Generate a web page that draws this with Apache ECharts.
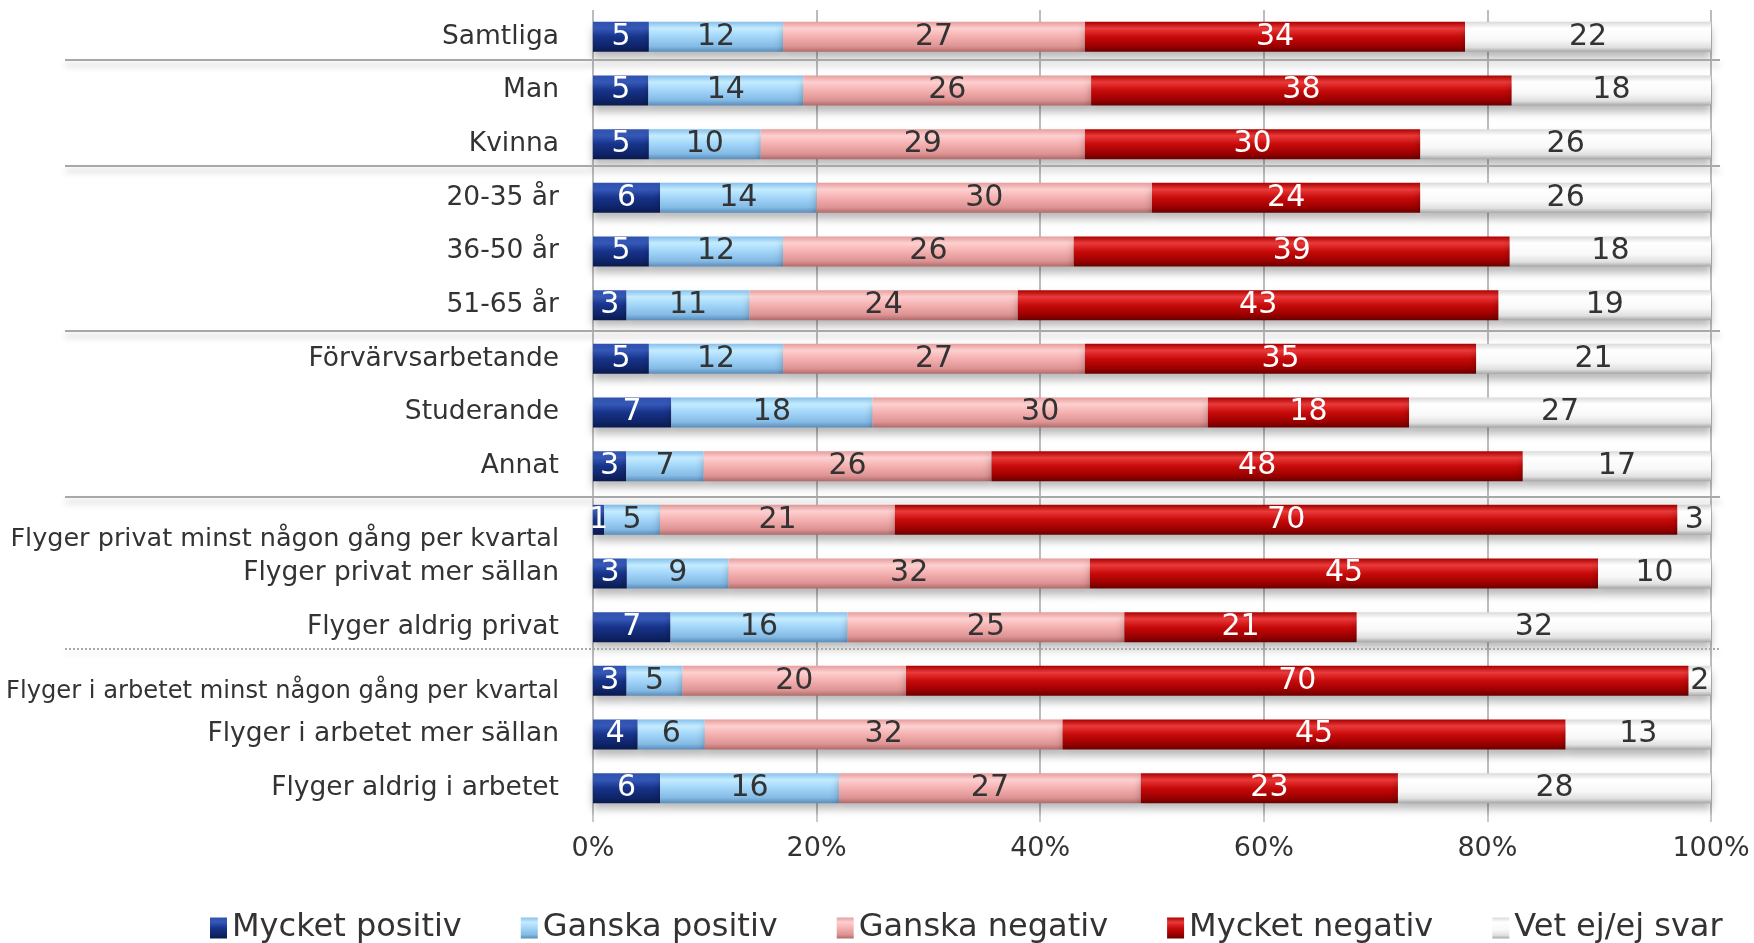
<!DOCTYPE html>
<html>
<head>
<meta charset="utf-8">
<script src="https://cdn.jsdelivr.net/npm/echarts@6/dist/echarts.min.js"></script>
<style>
  html, body { margin: 0; padding: 0; background: #fff; }
  #chart { width: 1754px; height: 943px; }
</style>
</head>
<body>
<div id="chart"></div>
<script>
// categories, top to bottom
const categories = [
    'Samtliga', 'Man', 'Kvinna',
    '20-35 år', '36-50 år', '51-65 år',
    'Förvärvsarbetande', 'Studerande', 'Annat',
    'Flyger privat minst någon gång per kvartal', 'Flyger privat mer sällan', 'Flyger aldrig privat',
    'Flyger i arbetet minst någon gång per kvartal', 'Flyger i arbetet mer sällan', 'Flyger aldrig i arbetet'
];

const seriesNames = ['Mycket positiv', 'Ganska positiv', 'Ganska negativ', 'Mycket negativ', 'Vet ej/ej svar'];

const mycketPositiv = [5, 5, 5, 6, 5, 3, 5, 7, 3, 1, 3, 7, 3, 4, 6];
const ganskaPositiv = [12, 14, 10, 14, 12, 11, 12, 18, 7, 5, 9, 16, 5, 6, 16];
const ganskaNegativ = [27, 26, 29, 30, 26, 24, 27, 30, 26, 21, 32, 25, 20, 32, 27];
const mycketNegativ = [34, 38, 30, 24, 39, 43, 35, 18, 48, 70, 45, 21, 70, 45, 23];
const vetEj = [22, 18, 26, 26, 18, 19, 21, 27, 17, 3, 10, 32, 2, 13, 28];

const xTicks = ['0%', '20%', '40%', '60%', '80%', '100%'];

// group separators: after these category indexes
const solidSeparators = [0, 2, 5, 8];
const dottedSeparators = [11];

const allValues = [mycketPositiv, ganskaPositiv, ganskaNegativ, mycketNegativ, vetEj];

// row totals, excel style 100% stacking
const totals = categories.map((c, i) => allValues.reduce((s, arr) => s + arr[i], 0));

function grad(stops) {
    return new echarts.graphic.LinearGradient(0, 0, 0, 1,
        stops.map(s => ({offset: s[0], color: s[1]})));
}

const fills = [
    grad([[0, '#2f52ad'], [0.22, '#3558b8'], [0.5, '#17338a'], [0.82, '#0f2468'], [1, '#0a1a4c']]),
    grad([[0, '#86c0ec'], [0.22, '#c4ecff'], [0.5, '#a2d5f9'], [0.82, '#84bae4'], [1, '#5b8cba']]),
    grad([[0, '#e79c9c'], [0.22, '#fdd0d0'], [0.5, '#f5b0b0'], [0.82, '#dd9393'], [1, '#b06a6a']]),
    grad([[0, '#a80000'], [0.22, '#ea3a3a'], [0.5, '#c80a0a'], [0.82, '#9a0000'], [1, '#680000']]),
    grad([[0, '#dadada'], [0.22, '#ffffff'], [0.6, '#f8f8f8'], [0.85, '#e0e0e0'], [1, '#a6a6a6']])
];
const labelColors = ['#ffffff', '#333333', '#333333', '#ffffff', '#333333'];

const series = seriesNames.map((name, k) => ({
    name: name,
    type: 'bar',
    stack: 'all',
    barWidth: 30,
    data: allValues[k].map((v, i) => ({value: v / totals[i] * 100, raw: v})),
    itemStyle: {
        color: fills[k],
        shadowColor: 'rgba(0,0,0,0.28)',
        shadowBlur: 8,
        shadowOffsetY: 6
    },
    label: {
        show: true,
        position: 'inside',
        color: labelColors[k],
        fontFamily: 'DejaVu Sans',
        fontSize: 30,
        overflow: 'none',
        formatter: p => p.data.raw
    }
}));

let chart = echarts.init(document.getElementById('chart'));

const option = {
    backgroundColor: '#ffffff',
    animation: false,
    grid: {left: 593, right: 43, top: 10, bottom: 128},
    legend: {
        left: 205,
        top: 907,
        width: 1545,
        itemWidth: 17,
        itemHeight: 21,
        itemGap: 59,
        icon: 'rect',
        textStyle: {fontFamily: 'DejaVu Sans', fontSize: 32, color: '#333333'},
        data: seriesNames
    },
    xAxis: {
        type: 'value',
        min: 0,
        max: 100,
        interval: 20,
        axisLine: {show: false},
        axisTick: {show: true, length: 7, lineStyle: {color: '#c8c8c8', width: 2}},
        splitLine: {lineStyle: {color: '#bcbcbc', width: 2}},
        axisLabel: {
            margin: 20,
            fontFamily: 'DejaVu Sans',
            fontSize: 27,
            color: '#333333',
            formatter: v => xTicks[v / 20]
        }
    },
    yAxis: {
        type: 'category',
        inverse: true,
        data: categories,
        axisLine: {show: false},
        axisTick: {show: false},
        axisLabel: {
            margin: 34,
            fontFamily: 'DejaVu Sans',
            fontSize: 26.5,
            color: '#333333',
            formatter: function (v) {
                if (v === categories[9]) return '{a|' + v + '}';
                if (v === categories[12]) return '{b|' + v + '}';
                return v;
            },
            rich: {
                a: {fontFamily: 'DejaVu Sans', fontSize: 25.5, color: '#333333', padding: [40, 0, 0, 0]},
                b: {fontFamily: 'DejaVu Sans', fontSize: 24.2, color: '#333333', padding: [22, 0, 0, 0]}
            }
        }
    },
    series: series
};

chart.setOption(option);

// separator lines between groups, placed from the axis scale
function boundary(i) {
    const a = chart.convertToPixel({yAxisIndex: 0}, categories[i]);
    const b = chart.convertToPixel({yAxisIndex: 0}, categories[i + 1]);
    return (a + b) / 2;
}
const solidShift = [-4, -5, -1, 4];
const dottedShift = [-5];
const xLeft = 65;
const xRight = chart.convertToPixel({xAxisIndex: 0}, 100) + 9;
const lines = [];
solidSeparators.forEach((i, n) => {
    const y = Math.round(boundary(i)) + solidShift[n];
    lines.push({
        type: 'line',
        shape: {x1: xLeft, y1: y, x2: xRight, y2: y},
        style: {stroke: '#a8a8a8', lineWidth: 2, shadowColor: 'rgba(0,0,0,0.25)', shadowBlur: 6, shadowOffsetY: 5},
        z: 10
    });
});
dottedSeparators.forEach((i, n) => {
    const y = Math.round(boundary(i)) + dottedShift[n];
    lines.push({
        type: 'line',
        shape: {x1: xLeft, y1: y, x2: xRight, y2: y},
        style: {stroke: '#a8a8a8', lineWidth: 2, lineDash: [2, 2], shadowColor: 'rgba(0,0,0,0.2)', shadowBlur: 6, shadowOffsetY: 5},
        z: 10
    });
});
chart.setOption({graphic: lines});
</script>
</body>
</html>
